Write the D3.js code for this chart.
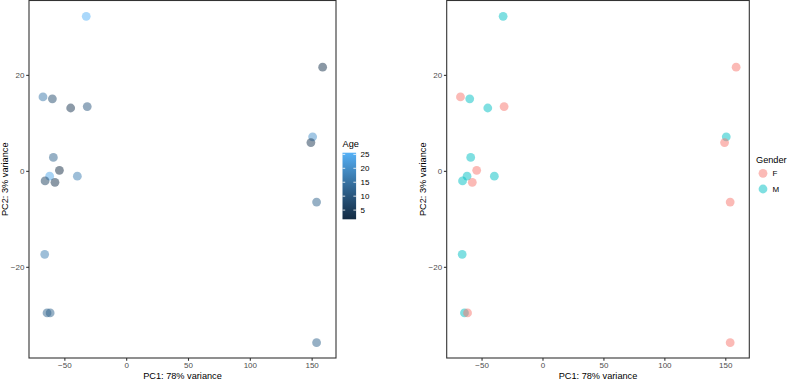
<!DOCTYPE html>
<html>
<head>
<meta charset="utf-8">
<script src="https://cdn.jsdelivr.net/npm/d3@7"></script>
<style>
  body { margin: 0; background: #fff; }
  svg { display: block; font-family: "Liberation Sans", Arial, Helvetica, sans-serif; }
</style>
</head>
<body>
<svg id="chart" width="787" height="380"></svg>
<script>
// PCA samples
const pc1 = [-32.3, 158.9, -67.3, -59.7, -44.9, -31.5, 150.8, 149.4, -58.9, -54.0,
             -61.9, -39.5, -65.6, -57.6, 154.0, -65.9, -64.0, -61.5, 154.0];
const pc2 = [32.2, 21.6, 15.4, 15.0, 13.1, 13.4, 7.1, 5.9, 2.8, 0.1,
             -1.1, -1.1, -2.1, -2.4, -6.5, -17.4, -29.6, -29.6, -35.8];
const age = [25.6, 3, 16, 8, 4, 10, 20, 4, 12, 1.7,
             24, 17, 6, 3, 12, 17, 12, 12, 12];
const gender = ["M", "F", "F", "M", "M", "F", "M", "F", "M", "F",
                "M", "M", "M", "F", "F", "M", "M", "F", "F"];

const xTicks = [-50, 0, 50, 100, 150];
const yTicks = [-20, 0, 20];
const ageTicks = [5, 10, 15, 20, 25];
const genderLevels = ["F", "M"];
const genderColors = ["#F8766D", "#00BFC4"];

const xTitle = "PC1: 78% variance";
const yTitle = "PC2: 3% variance";

const xDomain = [-78.6, 169.7];
const yDomain = [-39, 35.5];
const panelTop = 0.5;
const panelBottom = 358;
const pointRadius = 4.4;
const pointAlpha = 0.5;
const borderColor = "#333333";
const tickTextColor = "#4d4d4d";

const svg = d3.select("#chart");

const ageColor = d3.scaleLinear()
  .domain(d3.extent(age))
  .range(["#132B43", "#56B1F7"])
  .interpolate(d3.interpolateLab);

const genderColor = d3.scaleOrdinal().domain(genderLevels).range(genderColors);

const data = pc1.map((d, i) => ({ pc1: d, pc2: pc2[i], age: age[i], gender: gender[i] }));

function drawPanel(left, right, yLabelX, fillFn) {
  const x = d3.scaleLinear().domain(xDomain).range([left, right]);
  const y = d3.scaleLinear().domain(yDomain).range([panelBottom, panelTop]);
  const g = svg.append("g");

  g.append("g")
    .selectAll("circle")
    .data(data)
    .join("circle")
    .attr("cx", (d) => x(d.pc1))
    .attr("cy", (d) => y(d.pc2))
    .attr("r", pointRadius)
    .attr("fill", fillFn)
    .attr("fill-opacity", pointAlpha);

  g.append("rect")
    .attr("x", left)
    .attr("y", panelTop)
    .attr("width", right - left)
    .attr("height", panelBottom - panelTop)
    .attr("fill", "none")
    .attr("stroke", borderColor)
    .attr("stroke-width", 1.1);

  const xAxis = g.append("g")
    .attr("transform", `translate(0, ${panelBottom})`)
    .call(d3.axisBottom(x).tickValues(xTicks).tickSize(2.8).tickPadding(1.5)
      .tickFormat((d) => d3.format("")(d).replace("-", "\u2212")));
  xAxis.select(".domain").remove();
  xAxis.selectAll("line").attr("stroke", borderColor).attr("stroke-width", 1.1);
  xAxis.selectAll("text").attr("fill", tickTextColor).attr("font-size", 8)
    .attr("font-family", null);

  const yAxis = g.append("g")
    .attr("transform", `translate(${left}, 0)`)
    .call(d3.axisLeft(y).tickValues(yTicks).tickSize(2.8).tickPadding(1.8)
      .tickFormat((d) => d3.format("")(d).replace("-", "\u2212")));
  yAxis.select(".domain").remove();
  yAxis.selectAll("line").attr("stroke", borderColor).attr("stroke-width", 1.1);
  yAxis.selectAll("text").attr("fill", tickTextColor).attr("font-size", 8)
    .attr("font-family", null);

  g.append("text")
    .attr("x", (left + right) / 2)
    .attr("y", 378.5)
    .attr("text-anchor", "middle")
    .attr("font-size", 9.2)
    .attr("fill", "#000")
    .text(xTitle);

  g.append("text")
    .attr("transform", `translate(${yLabelX}, ${(panelTop + panelBottom) / 2}) rotate(-90)`)
    .attr("text-anchor", "middle")
    .attr("font-size", 9.2)
    .attr("fill", "#000")
    .text(yTitle);
}

drawPanel(29, 336, 7.5, (d) => ageColor(d.age));
drawPanel(446.7, 749.3, 425.5, (d) => genderColor(d.gender));

// Age colourbar legend
const barX = 342.5;
const barW = 13.6;
const barTop = 152.7;
const barBottom = 219.3;
const ageScale = d3.scaleLinear().domain(d3.extent(age)).range([barBottom, barTop]);

const defs = svg.append("defs");
const grad = defs.append("linearGradient")
  .attr("id", "ageGrad")
  .attr("x1", "0%").attr("y1", "100%")
  .attr("x2", "0%").attr("y2", "0%");
d3.range(0, 1.0001, 0.05).forEach((t) => {
  const [a0, a1] = ageColor.domain();
  grad.append("stop")
    .attr("offset", `${t * 100}%`)
    .attr("stop-color", ageColor(a0 + t * (a1 - a0)));
});

const legendA = svg.append("g");
legendA.append("text")
  .attr("x", barX)
  .attr("y", 147)
  .attr("font-size", 9.2)
  .attr("fill", "#000")
  .text("Age");
legendA.append("rect")
  .attr("x", barX)
  .attr("y", barTop)
  .attr("width", barW)
  .attr("height", barBottom - barTop)
  .attr("fill", "url(#ageGrad)");
ageTicks.forEach((t) => {
  const yy = ageScale(t);
  legendA.append("line")
    .attr("x1", barX).attr("x2", barX + 2.7)
    .attr("y1", yy).attr("y2", yy)
    .attr("stroke", "#fff").attr("stroke-width", 0.8);
  legendA.append("line")
    .attr("x1", barX + barW - 2.7).attr("x2", barX + barW)
    .attr("y1", yy).attr("y2", yy)
    .attr("stroke", "#fff").attr("stroke-width", 0.8);
  legendA.append("text")
    .attr("x", barX + barW + 4.5)
    .attr("y", yy)
    .attr("dy", "0.35em")
    .attr("font-size", 8)
    .attr("fill", "#000")
    .text(t);
});

// Gender legend
const legendG = svg.append("g");
legendG.append("text")
  .attr("x", 756)
  .attr("y", 162.5)
  .attr("font-size", 9.2)
  .attr("fill", "#000")
  .text("Gender");
const keyY = d3.scalePoint().domain(genderLevels).range([173.3, 189]);
genderLevels.forEach((lv) => {
  legendG.append("circle")
    .attr("cx", 763)
    .attr("cy", keyY(lv))
    .attr("r", pointRadius)
    .attr("fill", genderColor(lv))
    .attr("fill-opacity", pointAlpha);
  legendG.append("text")
    .attr("x", 772.5)
    .attr("y", keyY(lv))
    .attr("dy", "0.35em")
    .attr("font-size", 8)
    .attr("fill", "#000")
    .text(lv);
});
</script>
</body>
</html>
